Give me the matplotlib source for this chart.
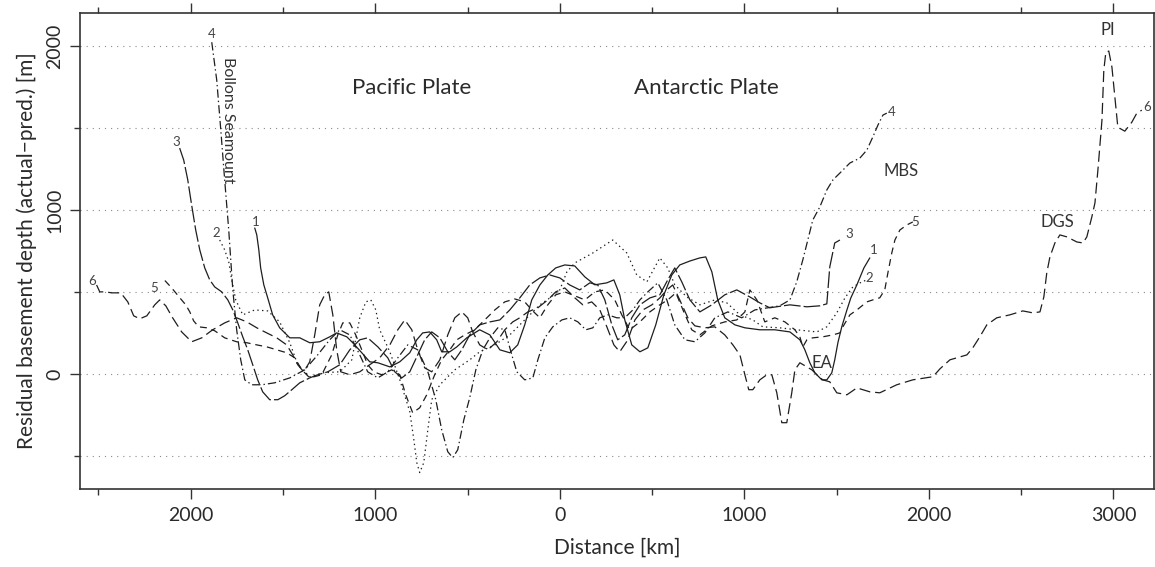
import matplotlib
matplotlib.use("Agg")
import matplotlib.pyplot as plt
from matplotlib.ticker import FixedLocator, FuncFormatter

plt.rcParams['font.family'] = ['Lato', 'DejaVu Sans']
plt.rcParams['lines.scale_dashes'] = False

# Residual basement depth profiles: distance [km] (negative = Pacific side), depth anomaly [m]
p1_km = [-1653, -1642, -1631, -1621, -1604, -1583, -1556, -1518, -1463, -1409, -1355, -1301, -1247,
         -1209, -1154, -1122, -1073, -1030, -986, -921, -867, -813, -775, -743, -705, -667, -640,
         -596, -558, -504, -434, -379, -325, -271, -228, -190, -152, -108, -65, -22, 27, 81, 136,
         190, 255, 293, 325, 352, 390, 434, 477, 520, 564, 607, 650, 705, 759, 791, 824, 856, 894,
         949, 1003, 1084, 1165, 1247, 1301, 1328, 1355, 1382, 1420, 1447, 1474, 1490, 1507, 1528,
         1556, 1577, 1610, 1648, 1680]
p1_m = [890, 848, 757, 647, 544, 465, 361, 282, 221, 221, 191, 197, 227,
        251, 227, 191, 130, 75, 69, 44, 75, 130, 209, 251, 257, 209, 136,
        136, 166, 221, 270, 239, 148, 130, 178, 300, 452, 543, 604, 647, 665, 659, 592,
        544, 556, 574, 483, 331, 178, 136, 160, 300, 483, 604, 665, 689, 708, 714, 623, 452, 343,
        300, 282, 270, 270, 257, 209, 148, 69, 8, -35, -35, 8, 87, 191, 288,
        391, 464, 544, 647, 708]

p2_km = [-1843, -1816, -1794, -1778, -1756, -1718, -1653, -1583, -1518, -1463, -1420, -1355, -1284,
         -1192, -1127, -1084, -1051, -1024, -997, -976, -921, -867, -813, -791, -775, -759, -737,
         -715, -694, -650, -569, -488, -434, -352, -271, -190, -108, -54, 0, 38, 81, 179, 287, 363,
         417, 472, 542, 585, 623, 688, 759, 840, 905, 976, 1046, 1100, 1192, 1284, 1393, 1447,
         1501, 1545, 1588, 1637, 1664]
p2_m = [817, 757, 684, 574, 452, 361, 391, 385, 318, 191, 57, -16, 8,
        14, 87, 343, 440, 452, 391, 270, 136, -35, -229, -399, -539, -600, -539,
        -338, -156, -65, 26, 87, 136, 178, 239, 330, 422, 464, 513, 622, 677, 738, 817, 738,
        604, 562, 708, 647, 544, 470, 422, 452, 434, 361, 330, 288, 282, 270, 257, 288,
        373, 464, 531, 562, 574]

p3_km = [-2060, -2038, -2016, -1995, -1973, -1951, -1924, -1897, -1870, -1832, -1799, -1772, -1745,
         -1718, -1691, -1664, -1637, -1610, -1572, -1528, -1491, -1453, -1409, -1355, -1312, -1257,
         -1192, -1138, -1084, -1041, -986, -932, -894, -856, -813, -770, -732, -694, -650, -607,
         -569, -531, -488, -434, -379, -325, -271, -217, -163, -108, -54, 0, 54, 108, 163, 206,
         244, 282, 314, 352, 390, 434, 488, 542, 585, 623, 661, 705, 759, 824, 894, 959, 1030,
         1084, 1138, 1247, 1339, 1409, 1447, 1463, 1490, 1518]
p3_m = [1377, 1304, 1183, 1030, 878, 757, 647, 574, 531, 501, 452, 391, 312,
        227, 148, 57, -35, -108, -156, -156, -132, -96, -53, -23, -4, 14,
        57, 148, 209, 221, 166, 99, 14, -23, 14, 117, 209, 257, 221, 136,
        87, 148, 239, 300, 318, 330, 391, 464, 543, 586, 604, 586, 543, 513, 556, 543,
        452, 300, 209, 239, 343, 422, 464, 483, 574, 647, 562, 452, 379, 422, 483, 513, 470,
        434, 404, 422, 410, 416, 428, 653, 799, 817]

p4_km = [-1886, -1859, -1837, -1816, -1794, -1772, -1751, -1729, -1707, -1669, -1615, -1545, -1463,
         -1382, -1312, -1247, -1192, -1138, -1084, -1041, -986, -932, -878, -824, -770, -715, -672,
         -640, -607, -580, -553, -520, -488, -455, -417, -379, -336, -298, -260, -233, -190, -146,
         -119, -81, -38, 11, 54, 98, 141, 179, 217, 260, 309, 352, 396, 434, 477, 531, 580, 623,
         678, 732, 786, 840, 911, 986, 1057, 1127, 1192, 1247, 1284, 1317, 1344, 1371, 1409, 1447,
         1480, 1518, 1572, 1626, 1664, 1696, 1724, 1751, 1772]
p4_m = [2022, 1791, 1487, 1183, 878, 513, 270, 87, -35, -65, -65, -53, -23,
        26, 117, 209, 270, 239, 117, 14, -23, 14, 99, 178, 148, 14, -156,
        -339, -473, -509, -461, -278, -144, 26, 148, 221, 282, 270, 117, 14, -35, -23,
        87, 221, 288, 330, 343, 318, 270, 282, 343, 361, 343, 343, 391, 452, 501, 556, 452, 300,
        209, 197, 251, 343, 379, 343, 391, 404, 416, 452, 562, 696, 817, 939, 1018, 1122,
        1183, 1225, 1286, 1316, 1365, 1444, 1517, 1578, 1590]

p5_km = [-2140, -2108, -2081, -2054, -2027, -2005, -1984, -1957, -1913, -1870, -1816, -1751, -1696,
         -1642, -1588, -1534, -1480, -1436, -1398, -1355, -1290, -1236, -1203, -1176, -1138, -1106,
         -1073, -1041, -1008, -965, -911, -867, -835, -797, -759, -721, -678, -640, -596, -558,
         -515, -461, -407, -352, -298, -244, -190, -152, -108, -65, -22, 27, 81, 136, 190, 244,
         298, 336, 379, 434, 488, 542, 585, 629, 672, 715, 759, 824, 894, 959, 1003, 1030, 1068,
         1111, 1165, 1220, 1274, 1301, 1317, 1339, 1371, 1425, 1480, 1518, 1534, 1572, 1610, 1664,
         1696, 1734, 1761, 1778, 1799, 1816, 1843, 1881, 1913]
p5_m = [570, 531, 495, 458, 422, 379, 324, 288, 282, 264, 221, 197, 191,
        178, 166, 148, 130, 99, 26, -23, -4, 117, 239, 312, 312, 239,
        148, 57, 14, -4, 26, -4, -126, -236, -205, -126, -4, 87, 148, 209,
        239, 270, 330, 391, 440, 458, 440, 391, 343, 422, 483, 501, 477, 452, 501, 513,
        452, 361, 270, 318, 379, 422, 452, 495, 379, 270, 239, 294, 318, 330, 379, 513, 452,
        318, 343, 318, 270, 227, 166, 209, 221, 227, 239, 251, 288, 361, 391, 440,
        452, 465, 513, 617, 738, 817, 878, 909, 927]

p6_km = [-2510, -2493, -2461, -2428, -2379, -2341, -2309, -2276, -2238, -2195, -2168, -2135, -2098,
         -2049, -1995, -1940, -1881, -1816, -1751, -1696, -1642, -1588, -1534, -1480, -1447, -1420,
         -1388, -1355, -1328, -1301, -1274, -1252, -1230, -1209, -1187, -1138, -1084, -1030, -976,
         -921, -878, -840, -802, -770, -732, -694, -650, -607, -569, -531, -499, -472, -434, -390,
         -341, -298, -255, -217, -173, -119, -65, -22, 27, 81, 125, 173, 217, 255, 293, 325, 369,
         407, 450, 499, 542, 580, 612, 650, 694, 732, 786, 840, 894, 938, 976, 1003, 1024, 1046,
         1084, 1122, 1149, 1176, 1203, 1230, 1257, 1274, 1301, 1339, 1366, 1393, 1425, 1463, 1501,
         1556, 1610, 1680, 1734, 1826, 1913, 2022, 2060, 2114, 2206, 2238, 2276, 2314, 2368, 2439,
         2509, 2564, 2602, 2623, 2639, 2656, 2683, 2710, 2748, 2802, 2835, 2856, 2883, 2900, 2916,
         2938, 2948, 2959, 2975, 2992, 3008, 3024, 3062, 3100, 3127, 3154]
p6_m = [543, 501, 501, 495, 495, 440, 355, 337, 355, 422, 452, 416, 343,
        257, 197, 221, 270, 312, 343, 318, 282, 251, 221, 178, 117, 57,
        14, 75, 239, 422, 483, 501, 361, 148, 14, -4, 14, 57, 99,
        178, 270, 330, 270, 148, 38, 14, 87, 239, 343, 379, 343, 257, 178, 148,
        197, 270, 318, 343, 379, 404, 452, 501, 525, 465, 422, 440, 391, 288, 178, 136, 209,
        330, 391, 422, 464, 513, 543, 452, 343, 294, 282, 288, 239, 178, 117, -4, -95, -95,
        -35, -4, -4, -114, -296, -296, -114, 26, 69, 44, 26, -4, -35, -47, -114,
        -126, -84, -108, -114, -65, -35, -16, 32, 87, 117, 160, 227, 300, 343, 361,
        385, 373, 379, 470, 617, 714, 799, 848, 836, 805, 799, 836, 957, 1043, 1243,
        1547, 1851, 1961, 1968, 1870, 1687, 1504, 1480, 1535, 1590, 1608]

# Line style for each profile (dash patterns in points)
profiles = [
    (p1_km, p1_m, '-'),
    (p2_km, p2_m, (0, (1.0, 2.4))),
    (p3_km, p3_m, (0, (12, 2.2))),
    (p4_km, p4_m, (0, (6, 2.2, 1, 2.2))),
    (p5_km, p5_m, (0, (5, 3.5))),
    (p6_km, p6_m, (0, (8, 3.5))),
]

# Profile numbers at both ends: (text, km, m)
end_labels = [
    ('4', -1886, 2071), ('3', -2076, 1413), ('2', -1864, 860), ('1', -1648, 927),
    ('5', -2200, 525), ('6', -2536, 568),
    ('4', 1799, 1596), ('3', 1566, 853), ('1', 1702, 756), ('2', 1675, 586),
    ('5', 1924, 927), ('6', 3181, 1627),
]

# Feature names: (text, km, m)
features = [('MBS', 1848, 1237), ('DGS', 2699, 927), ('PI', 2970, 2096), ('EA', 1420, 69)]

W, H = 1155, 567
fig = plt.figure(figsize=(W / 100, H / 100), dpi=100)
ax = fig.add_axes([80 / W, (H - 489) / H, (1154 - 80) / W, (489 - 13) / H])

ax.set_xlim(-2600, 3220)
ax.set_ylim(-700, 2200)

for y in [-500, 0, 500, 1000, 1500, 2000]:
    ax.axhline(y, color='#8a8a8a', lw=0.8, ls=(0, (0.8, 3.6)), zorder=1)

line_color = '#1e1e1e'
for km, m, ls in profiles:
    ax.plot(km, m, color=line_color, lw=0.9, ls=ls, zorder=2,
            dash_capstyle='butt', solid_capstyle='round')

for txt, x, y in end_labels:
    ax.text(x, y, txt, fontsize=9.5, color='#444444', ha='center', va='center', zorder=3)

for txt, x, y in features:
    ax.text(x, y, txt, fontsize=12, color='#333333', ha='center', va='center', zorder=3)

ax.text(-802, 1742, 'Pacific Plate', fontsize=16, color='#2a2a2a', ha='center', va='center')
ax.text(797, 1742, 'Antarctic Plate', fontsize=16, color='#2a2a2a', ha='center', va='center')
ax.text(-1799, 1548, 'Bollons Seamount', fontsize=11.5, color='#333333', rotation=-90,
        ha='center', va='center', rotation_mode='anchor')

# Axes, ticks and labels
ax.xaxis.set_major_locator(FixedLocator([-2000, -1000, 0, 1000, 2000, 3000]))
ax.xaxis.set_minor_locator(FixedLocator([-2500, -1500, -500, 500, 1500, 2500]))
ax.xaxis.set_major_formatter(FuncFormatter(lambda v, p: f"{abs(int(round(v)))}"))
ax.yaxis.set_major_locator(FixedLocator([0, 1000, 2000]))
ax.yaxis.set_minor_locator(FixedLocator([-500, 500, 1500]))

for s in ['left', 'right', 'top', 'bottom']:
    ax.spines[s].set_color('#333333')
    ax.spines[s].set_linewidth(1.2)

ax.tick_params(axis='x', which='both', direction='out', top=True, bottom=True,
               color='#333333', width=1.0, labelsize=14, labelcolor='#2a2a2a', pad=6)
ax.tick_params(axis='y', which='both', direction='out', left=True, right=False,
               color='#333333', width=1.0, labelsize=14, labelcolor='#2a2a2a', pad=5)
ax.tick_params(which='major', length=7)
ax.tick_params(which='minor', length=4)
for lab in ax.get_yticklabels():
    lab.set_rotation(90)
    lab.set_va('center')

ax.set_xlabel('Distance [km]', fontsize=15, color='#2a2a2a', labelpad=10)
ax.set_ylabel('Residual basement depth (actual\u2212pred.) [m]', fontsize=15,
              color='#2a2a2a', labelpad=7)

fig.savefig('out.png', dpi=100)
